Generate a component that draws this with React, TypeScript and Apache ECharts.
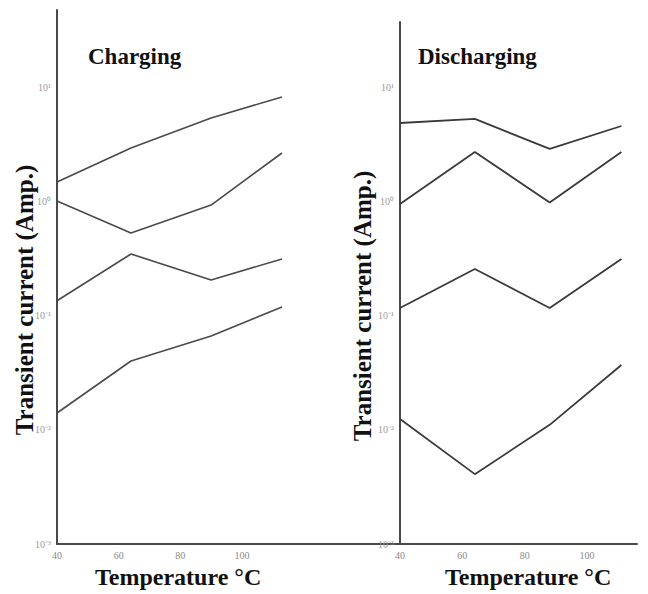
import React, { useEffect, useRef } from 'react';
import * as echarts from 'echarts';

// Temperatures (°C)
const chargeTemps = [40, 64, 90, 113];
const dischargeTemps = [40, 64, 88, 111];

// Transient current (A), log scale
const charging1 = [1.5, 2.98, 5.46, 8.34];
const charging2 = [1.02, 0.535, 0.94, 2.69];
const charging3 = [0.136, 0.35, 0.207, 0.316];
const charging4 = [0.0141, 0.0403, 0.0669, 0.12];

const discharging1 = [4.93, 5.35, 2.92, 4.64];
const discharging2 = [0.96, 2.75, 0.99, 2.75];
const discharging3 = [0.1175, 0.258, 0.1175, 0.316];
const discharging4 = [0.0125, 0.0041, 0.0111, 0.0372];

const xTickLabels = [40, 60, 80, 100];
const yExponentLabels: Record<string, string> = {
  '1': '10¹',
  '0': '10⁰',
  '-1': '10⁻¹',
  '-2': '10⁻²',
  '-3': '10⁻³',
};

const panelTitles = ['Charging', 'Discharging'];
const xAxisTitle = 'Temperature °C';
const yAxisTitle = 'Transient current (Amp.)';

const toPairs = (xs: number[], ys: number[]) => xs.map((x, i) => [x, ys[i]]);

const yLabelFormatter = (v: number) => {
  const e = Math.log10(v);
  const r = Math.round(e);
  if (Math.abs(e - r) > 1e-6) return '';
  return yExponentLabels[String(r)] ?? '';
};

const xLabelFormatter = (v: number) =>
  xTickLabels.indexOf(Math.round(v)) >= 0 && Math.abs(v - Math.round(v)) < 1e-6 ? String(Math.round(v)) : '';

export default function App() {
  const ref = useRef<HTMLDivElement>(null);

  useEffect(() => {
    if (!ref.current) return;
    const chart = echarts.init(ref.current, null, { renderer: 'svg' });

    const axisLine = { show: true, lineStyle: { color: '#4a4a4a', width: 2 } };
    const xLabel = {
      formatter: xLabelFormatter,
      color: '#8a8a8a',
      fontSize: 10,
      fontFamily: 'Liberation Serif',
      margin: 6,
    };
    const yLabel = {
      formatter: yLabelFormatter,
      color: '#9a9a9a',
      fontSize: 10,
      fontFamily: 'Liberation Serif',
      margin: 6,
    };
    const lineStyleL = { color: '#4a4a4a', width: 1.6 };
    const lineStyleR = { color: '#3a3a3a', width: 1.8 };
    const mkSeries = (name: string, xi: number, data: number[][], ls: any) => ({
      name,
      type: 'line',
      xAxisIndex: xi,
      yAxisIndex: xi,
      data,
      showSymbol: false,
      symbol: 'none',
      lineStyle: ls,
    });

    const titleFont = 'bold 23px "Liberation Serif", "DejaVu Serif", serif';
    const axisTitleFont = 'bold 24px "Liberation Serif", "DejaVu Serif", serif';
    const yTitleFont = 'bold 25px "Liberation Serif", "DejaVu Serif", serif';

    chart.setOption({
      animation: false,
      backgroundColor: '#ffffff',
      grid: [
        { left: 57, top: 10, width: 343, bottom: 50 },
        { left: 400, top: 22, width: 237, bottom: 50 },
      ],
      xAxis: [
        {
          type: 'value',
          gridIndex: 0,
          min: 40,
          max: 151.3,
          interval: 20,
          axisLine,
          axisTick: { show: false },
          splitLine: { show: false },
          axisLabel: xLabel,
        },
        {
          type: 'value',
          gridIndex: 1,
          min: 40,
          max: 116,
          interval: 20,
          axisLine,
          axisTick: { show: false },
          splitLine: { show: false },
          axisLabel: xLabel,
        },
      ],
      yAxis: [
        {
          type: 'log',
          gridIndex: 0,
          min: 0.001,
          max: 48.3,
          axisLine,
          axisTick: { show: false },
          splitLine: { show: false },
          axisLabel: yLabel,
        },
        {
          type: 'log',
          gridIndex: 1,
          min: 0.001,
          max: 37.9,
          axisLine,
          axisTick: { show: false },
          splitLine: { show: false },
          axisLabel: yLabel,
        },
      ],
      series: [
        mkSeries('Charging 1', 0, toPairs(chargeTemps, charging1), lineStyleL),
        mkSeries('Charging 2', 0, toPairs(chargeTemps, charging2), lineStyleL),
        mkSeries('Charging 3', 0, toPairs(chargeTemps, charging3), lineStyleL),
        mkSeries('Charging 4', 0, toPairs(chargeTemps, charging4), lineStyleL),
        mkSeries('Discharging 1', 1, toPairs(dischargeTemps, discharging1), lineStyleR),
        mkSeries('Discharging 2', 1, toPairs(dischargeTemps, discharging2), lineStyleR),
        mkSeries('Discharging 3', 1, toPairs(dischargeTemps, discharging3), lineStyleR),
        mkSeries('Discharging 4', 1, toPairs(dischargeTemps, discharging4), lineStyleR),
      ],
      graphic: [
        { type: 'text', left: 88, top: 45, style: { text: panelTitles[0], font: titleFont, fill: '#111' } },
        { type: 'text', left: 418, top: 45, style: { text: panelTitles[1], font: titleFont, fill: '#111' } },
        { type: 'text', left: 95, top: 565, style: { text: xAxisTitle, font: axisTitleFont, fill: '#111' } },
        { type: 'text', left: 445, top: 565, style: { text: xAxisTitle, font: axisTitleFont, fill: '#111' } },
        {
          type: 'text',
          x: 24,
          y: 300,
          rotation: Math.PI / 2,
          style: { text: yAxisTitle, font: yTitleFont, fill: '#111', align: 'center', verticalAlign: 'middle' },
        },
        {
          type: 'text',
          x: 362,
          y: 306,
          rotation: Math.PI / 2,
          style: { text: yAxisTitle, font: yTitleFont, fill: '#111', align: 'center', verticalAlign: 'middle' },
        },
      ],
    });

    return () => chart.dispose();
  }, []);

  return (
    <div
      ref={ref}
      style={{ position: 'fixed', left: 0, top: 0, width: 648, height: 594, background: '#fff' }}
    />
  );
}
